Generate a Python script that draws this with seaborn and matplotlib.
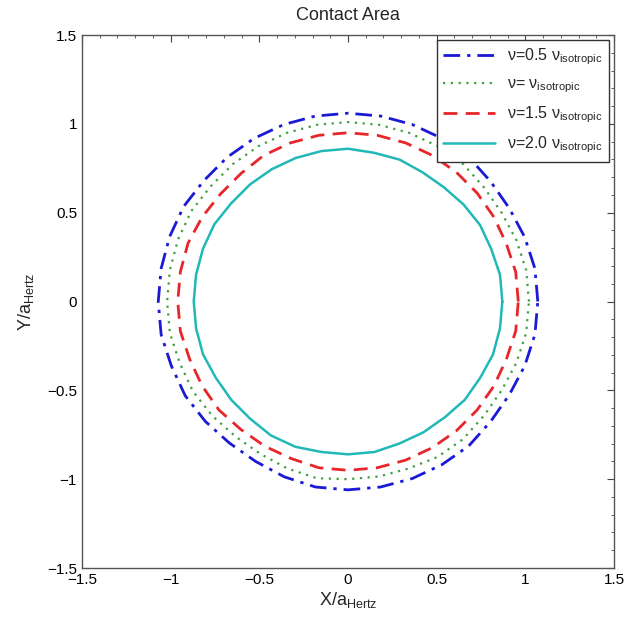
import numpy as np
import pandas as pd
import seaborn as sns
from matplotlib import pyplot as plt
from matplotlib.ticker import MultipleLocator

# contour radius (in units of a_Hertz) read every 10 degrees, counter-clockwise from +X
angles_deg = list(range(0, 360, 10))
r_05 = [1.07, 1.07, 1.06, 1.05, 1.05, 1.06, 1.06, 1.06, 1.06, 1.06, 1.06, 1.06,
        1.06, 1.06, 1.06, 1.07, 1.07, 1.07, 1.07, 1.07, 1.06, 1.06, 1.05, 1.04,
        1.04, 1.05, 1.06, 1.06, 1.06, 1.06, 1.06, 1.06, 1.05, 1.05, 1.06, 1.07]
r_10 = [1.02, 1.02, 1.01, 1.00, 1.00, 1.01, 1.01, 1.01, 1.01, 1.01, 1.01, 1.01,
        1.01, 1.01, 1.01, 1.02, 1.02, 1.02, 1.02, 1.02, 1.01, 1.01, 1.00, 0.99,
        0.99, 1.00, 1.01, 1.00, 1.00, 1.00, 1.01, 1.01, 1.00, 1.00, 1.01, 1.02]
r_15 = [0.96, 0.96, 0.95, 0.95, 0.95, 0.95, 0.95, 0.95, 0.95, 0.95, 0.95, 0.95,
        0.95, 0.94, 0.94, 0.95, 0.96, 0.96, 0.96, 0.96, 0.95, 0.95, 0.95, 0.94,
        0.94, 0.94, 0.95, 0.95, 0.95, 0.95, 0.95, 0.95, 0.95, 0.95, 0.95, 0.96]
r_20 = [0.87, 0.87, 0.86, 0.86, 0.85, 0.84, 0.84, 0.85, 0.85, 0.86, 0.86, 0.86,
        0.86, 0.86, 0.86, 0.87, 0.87, 0.87, 0.87, 0.87, 0.87, 0.86, 0.86, 0.86,
        0.87, 0.87, 0.86, 0.86, 0.86, 0.85, 0.85, 0.85, 0.86, 0.86, 0.87, 0.87]

labels = ["ν=0.5 ν$_{\\mathrm{isotropic}}$", "ν= ν$_{\\mathrm{isotropic}}$",
          "ν=1.5 ν$_{\\mathrm{isotropic}}$", "ν=2.0 ν$_{\\mathrm{isotropic}}$"]
colors = ["#1a1ad6", "#3f9f3f", "#e8262a", "#22b8b8"]
styles = [(0, (6, 2.5, 1.2, 2.5)), (0, (1, 2.5)), (0, (5, 3)), "-"]
widths = [2.0, 1.6, 2.0, 1.8]

sns.set_style("white")
plt.rcParams["font.family"] = ["Liberation Sans", "DejaVu Sans"]
plt.rcParams["mathtext.fontset"] = "custom"
plt.rcParams["mathtext.rm"] = "Liberation Sans"

fig = plt.figure(figsize=(6.37, 6.21), dpi=100)
ax = fig.add_axes([0.1287, 0.0853, 0.8353, 0.8583])

th = np.deg2rad(angles_deg + [angles_deg[0]])
for r, lab, c, ls, lw in zip([r_05, r_10, r_15, r_20], labels, colors, styles, widths):
    rr = np.array(r + [r[0]])
    df = pd.DataFrame({"x": rr * np.cos(th), "y": rr * np.sin(th)})
    sns.lineplot(data=df, x="x", y="y", sort=False, estimator=None, ax=ax,
                 color=c, linestyle=ls, linewidth=lw, label=lab)

ax.set_xlim(-1.5, 1.5)
ax.set_ylim(-1.5, 1.5)
ax.xaxis.set_major_locator(MultipleLocator(0.5))
ax.yaxis.set_major_locator(MultipleLocator(0.5))
ax.xaxis.set_minor_locator(MultipleLocator(0.1))
ax.yaxis.set_minor_locator(MultipleLocator(0.1))
ax.xaxis.set_major_formatter(plt.FuncFormatter(lambda v, p: f"{v:g}".replace("-", "\u2212")))
ax.yaxis.set_major_formatter(plt.FuncFormatter(lambda v, p: f"{v:g}".replace("-", "\u2212")))
ax.tick_params(which="both", direction="in", top=True, right=True, colors="#444444",
               labelcolor="black", labelsize=11)
ax.tick_params(which="major", length=5, width=0.8)
ax.tick_params(which="minor", length=2.5, width=0.6)
for s in ax.spines.values():
    s.set_color("#555555")
    s.set_linewidth(1.0)

ax.set_title("Contact Area", fontsize=13, pad=11)
ax.set_xlabel("X/a$_{\\mathrm{Hertz}}$", fontsize=13, labelpad=2)
ax.set_ylabel("Y/a$_{\\mathrm{Hertz}}$", fontsize=13, labelpad=8)

leg = ax.legend(loc="upper right", fontsize=11.5, frameon=True, fancybox=False,
                framealpha=1, edgecolor="#333333", handlelength=3.2,
                borderaxespad=0.3, labelspacing=0.6, borderpad=0.4)
leg.get_frame().set_linewidth(1.0)

fig.savefig("out.png", dpi=100)
